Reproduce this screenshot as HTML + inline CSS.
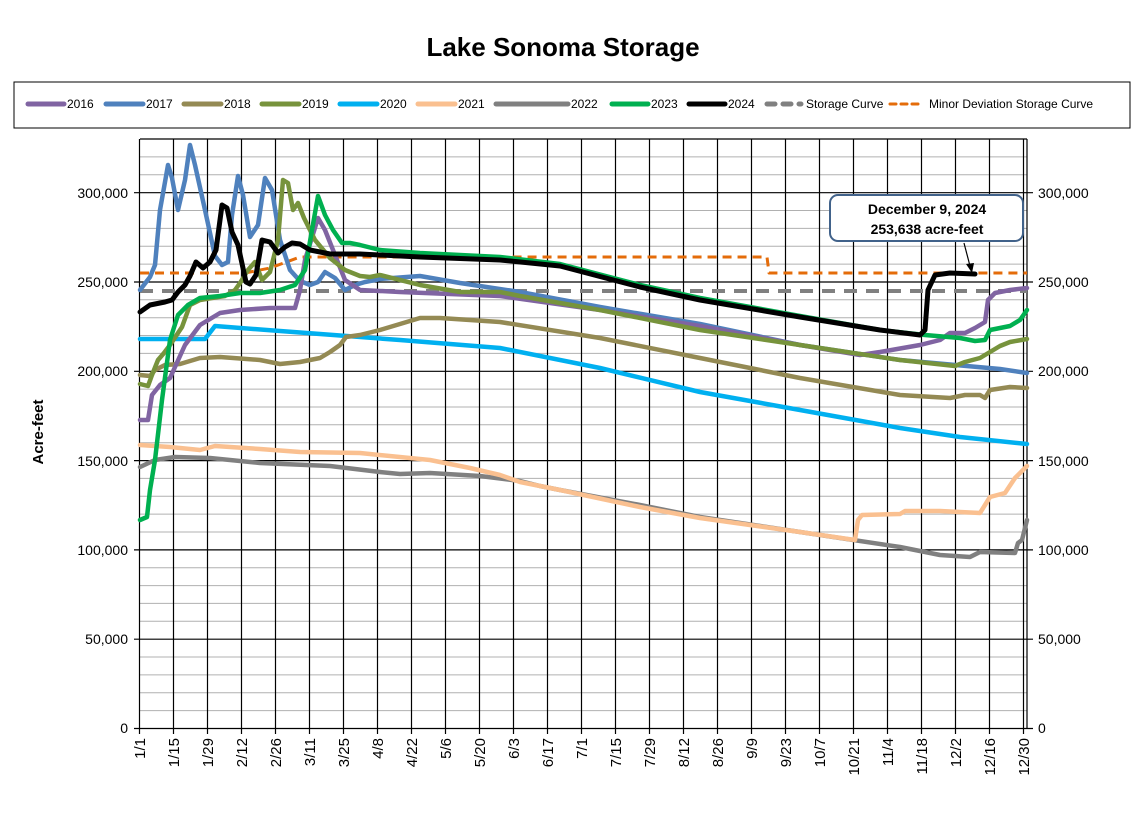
<!DOCTYPE html>
<html><head><meta charset="utf-8"><style>
html,body{margin:0;padding:0;background:#fff}
svg{display:block;font-family:"Liberation Sans",Arial,sans-serif}
</style></head><body>
<svg width="1139" height="827" viewBox="0 0 1139 827" xmlns="http://www.w3.org/2000/svg">
<rect width="1139" height="827" fill="#fff"/>
<text x="563" y="56" font-size="26" font-weight="bold" text-anchor="middle">Lake Sonoma Storage</text>
<rect x="14" y="82" width="1116" height="46" fill="#fff" stroke="#000" stroke-width="1"/>
<g font-size="12" fill="#000" stroke-linecap="round">
<line x1="28" y1="104" x2="64" y2="104" stroke="#8064a2" stroke-width="5"/><text x="67" y="108">2016</text>
<line x1="106" y1="104" x2="143" y2="104" stroke="#4f81bd" stroke-width="5"/><text x="146" y="108">2017</text>
<line x1="184" y1="104" x2="221" y2="104" stroke="#948a54" stroke-width="5"/><text x="224" y="108">2018</text>
<line x1="262" y1="104" x2="299" y2="104" stroke="#77933c" stroke-width="5"/><text x="302" y="108">2019</text>
<line x1="340" y1="104" x2="377" y2="104" stroke="#00b0f0" stroke-width="5"/><text x="380" y="108">2020</text>
<line x1="418" y1="104" x2="455" y2="104" stroke="#fac090" stroke-width="5"/><text x="458" y="108">2021</text>
<line x1="496" y1="104" x2="568" y2="104" stroke="#808080" stroke-width="5"/><text x="571" y="108">2022</text>
<line x1="612" y1="104" x2="648" y2="104" stroke="#00b050" stroke-width="5"/><text x="651" y="108">2023</text>
<line x1="689" y1="104" x2="725" y2="104" stroke="#000" stroke-width="5"/><text x="728" y="108">2024</text>
<line x1="767" y1="104" x2="801" y2="104" stroke="#808080" stroke-width="5" stroke-dasharray="8,8"/><text x="806" y="108">Storage Curve</text>
<line x1="890" y1="104" x2="922" y2="104" stroke="#e46c0a" stroke-width="3" stroke-dasharray="6,5"/><text x="929" y="108">Minor Deviation Storage Curve</text>
</g>
<g stroke="#b0b0b0" stroke-width="1">
<line x1="140" x2="1027" y1="710.6" y2="710.6"/><line x1="140" x2="1027" y1="692.7" y2="692.7"/><line x1="140" x2="1027" y1="674.9" y2="674.9"/><line x1="140" x2="1027" y1="657" y2="657"/>
<line x1="140" x2="1027" y1="621.3" y2="621.3"/><line x1="140" x2="1027" y1="603.4" y2="603.4"/><line x1="140" x2="1027" y1="585.6" y2="585.6"/><line x1="140" x2="1027" y1="567.7" y2="567.7"/>
<line x1="140" x2="1027" y1="532" y2="532"/><line x1="140" x2="1027" y1="514.1" y2="514.1"/><line x1="140" x2="1027" y1="496.3" y2="496.3"/><line x1="140" x2="1027" y1="478.4" y2="478.4"/>
<line x1="140" x2="1027" y1="442.7" y2="442.7"/><line x1="140" x2="1027" y1="424.8" y2="424.8"/><line x1="140" x2="1027" y1="407" y2="407"/><line x1="140" x2="1027" y1="389.1" y2="389.1"/>
<line x1="140" x2="1027" y1="353.4" y2="353.4"/><line x1="140" x2="1027" y1="335.5" y2="335.5"/><line x1="140" x2="1027" y1="317.7" y2="317.7"/><line x1="140" x2="1027" y1="299.8" y2="299.8"/>
<line x1="140" x2="1027" y1="264.1" y2="264.1"/><line x1="140" x2="1027" y1="246.2" y2="246.2"/><line x1="140" x2="1027" y1="228.4" y2="228.4"/><line x1="140" x2="1027" y1="210.5" y2="210.5"/>
<line x1="140" x2="1027" y1="174.8" y2="174.8"/><line x1="140" x2="1027" y1="156.9" y2="156.9"/>
</g>
<g stroke="#000" stroke-width="1.2">
<line x1="134" x2="1033" y1="639.2" y2="639.2"/><line x1="134" x2="1033" y1="549.9" y2="549.9"/><line x1="134" x2="1033" y1="460.6" y2="460.6"/><line x1="134" x2="1033" y1="371.3" y2="371.3"/><line x1="134" x2="1033" y1="282" y2="282"/><line x1="134" x2="1033" y1="192.7" y2="192.7"/>
<line x1="134" x2="1033" y1="728.5" y2="728.5"/>
<line x1="140" x2="1027" y1="139" y2="139"/>
<line x1="139.5" x2="139.5" y1="139" y2="734"/><line x1="173.5" x2="173.5" y1="139" y2="734"/><line x1="207.5" x2="207.5" y1="139" y2="734"/><line x1="241.5" x2="241.5" y1="139" y2="734"/><line x1="275.5" x2="275.5" y1="139" y2="734"/><line x1="309.5" x2="309.5" y1="139" y2="734"/><line x1="343.5" x2="343.5" y1="139" y2="734"/><line x1="377.5" x2="377.5" y1="139" y2="734"/><line x1="411.5" x2="411.5" y1="139" y2="734"/><line x1="445.5" x2="445.5" y1="139" y2="734"/><line x1="479.5" x2="479.5" y1="139" y2="734"/><line x1="513.5" x2="513.5" y1="139" y2="734"/><line x1="547.5" x2="547.5" y1="139" y2="734"/><line x1="581.5" x2="581.5" y1="139" y2="734"/><line x1="615.5" x2="615.5" y1="139" y2="734"/><line x1="649.5" x2="649.5" y1="139" y2="734"/><line x1="683.5" x2="683.5" y1="139" y2="734"/><line x1="717.5" x2="717.5" y1="139" y2="734"/><line x1="751.5" x2="751.5" y1="139" y2="734"/><line x1="785.5" x2="785.5" y1="139" y2="734"/><line x1="819.5" x2="819.5" y1="139" y2="734"/><line x1="853.5" x2="853.5" y1="139" y2="734"/><line x1="887.5" x2="887.5" y1="139" y2="734"/><line x1="921.5" x2="921.5" y1="139" y2="734"/><line x1="955.5" x2="955.5" y1="139" y2="734"/><line x1="989.5" x2="989.5" y1="139" y2="734"/><line x1="1023.5" x2="1023.5" y1="139" y2="734"/>
<line x1="1027" x2="1027" y1="139" y2="728.5"/>
</g>
<g font-size="14" fill="#000">
<g text-anchor="end">
<text x="128" y="733">0</text><text x="128" y="644">50,000</text><text x="128" y="555">100,000</text><text x="128" y="466">150,000</text><text x="128" y="376">200,000</text><text x="128" y="287">250,000</text><text x="128" y="198">300,000</text>
</g>
<text x="1038" y="733">0</text><text x="1038" y="644">50,000</text><text x="1038" y="555">100,000</text><text x="1038" y="466">150,000</text><text x="1038" y="376">200,000</text><text x="1038" y="287">250,000</text><text x="1038" y="198">300,000</text>
<text transform="translate(43,432) rotate(-90)" text-anchor="middle" font-size="15" font-weight="bold">Acre-feet</text>
<g text-anchor="end" font-size="15">
<text transform="translate(145,738) rotate(-90)">1/1</text><text transform="translate(179,738) rotate(-90)">1/15</text><text transform="translate(213,738) rotate(-90)">1/29</text><text transform="translate(247,738) rotate(-90)">2/12</text><text transform="translate(281,738) rotate(-90)">2/26</text><text transform="translate(315,738) rotate(-90)">3/11</text><text transform="translate(349,738) rotate(-90)">3/25</text><text transform="translate(383,738) rotate(-90)">4/8</text><text transform="translate(417,738) rotate(-90)">4/22</text><text transform="translate(451,738) rotate(-90)">5/6</text><text transform="translate(485,738) rotate(-90)">5/20</text><text transform="translate(519,738) rotate(-90)">6/3</text><text transform="translate(553,738) rotate(-90)">6/17</text><text transform="translate(587,738) rotate(-90)">7/1</text><text transform="translate(621,738) rotate(-90)">7/15</text><text transform="translate(655,738) rotate(-90)">7/29</text><text transform="translate(689,738) rotate(-90)">8/12</text><text transform="translate(723,738) rotate(-90)">8/26</text><text transform="translate(757,738) rotate(-90)">9/9</text><text transform="translate(791,738) rotate(-90)">9/23</text><text transform="translate(825,738) rotate(-90)">10/7</text><text transform="translate(859,738) rotate(-90)">10/21</text><text transform="translate(893,738) rotate(-90)">11/4</text><text transform="translate(927,738) rotate(-90)">11/18</text><text transform="translate(961,738) rotate(-90)">12/2</text><text transform="translate(995,738) rotate(-90)">12/16</text><text transform="translate(1029,738) rotate(-90)">12/30</text>
</g>
</g>
<g fill="none" stroke-width="4.5" stroke-linejoin="round" stroke-linecap="round">
<polyline stroke="#808080" stroke-width="4" stroke-linecap="butt" stroke-dasharray="13,9" points="140,291 1027,291"/>
<polyline stroke="#e46c0a" stroke-width="3" stroke-linecap="butt" stroke-dasharray="9,6" points="140,273 245,273 270,268 300,257 767,257 769,273 1027,273"/>
<polyline stroke="#808080" points="140,467 155,460 175,457 210,458 260,463 330,466 380,472 400,474 430,473 480,476 520,481 540,486 560,490 640,505 700,517 800,532 900,547 940,555 970,557 980,552 1015,553 1018,543 1022,540 1027,520"/>
<polyline stroke="#fac090" points="140,445 170,447 200,450 215,446 260,449 300,452 360,453 430,460 470,468 500,475 520,482 560,490 640,507 700,518 800,532 855,540 858,520 862,515 900,514 905,511 940,511 980,513 985,505 990,497 1005,493 1015,478 1027,466"/>
<polyline stroke="#00b0f0" points="140,339 205,339 215,326 280,331 400,340 500,348 600,368 700,392 800,410 900,428 960,437 1027,444"/>
<polyline stroke="#948a54" points="140,375 150,376 155,370 165,365 180,364 200,358 220,357 260,360 280,364 300,362 320,358 330,352 340,345 346,337 360,335 380,330 420,318 440,318 500,322 600,338 700,358 800,378 900,395 950,398 965,395 980,395 985,398 990,390 1010,387 1027,388"/>
<polyline stroke="#4f81bd" points="140,290 150,277 155,265 160,210 165,182 168,165 172,178 178,210 185,180 190,145 195,165 205,210 215,256 222,265 228,262 232,215 238,176 243,195 250,237 258,225 265,178 272,190 280,240 290,270 300,281 310,285 318,282 325,272 335,278 345,290 355,285 365,282 380,279 420,276 460,283 520,292 600,307 700,324 800,345 900,360 1000,369 1027,373"/>
<polyline stroke="#8064a2" points="140,420 148,420 152,395 160,385 170,378 185,345 200,325 220,313 240,310 270,308 295,308 300,290 305,260 318,218 325,230 335,255 345,280 360,290 400,292 500,296 600,310 700,326 800,345 860,355 880,352 920,345 940,340 950,333 965,333 975,328 985,322 988,300 995,293 1010,290 1027,288"/>
<polyline stroke="#77933c" points="140,384 148,386 152,375 158,360 164,353 170,345 182,327 190,305 200,300 212,298 225,296 235,290 240,283 248,270 255,262 262,280 270,272 278,240 283,180 288,183 293,210 298,203 304,218 315,240 330,258 345,270 360,276 370,277 380,275 420,285 460,292 500,292 520,296 600,310 700,330 800,345 900,360 955,366 965,362 980,358 1000,346 1010,342 1027,339"/>
<polyline stroke="#00b050" points="140,520 147,517 150,490 155,460 162,400 170,340 178,315 188,305 200,298 220,296 240,293 260,293 280,290 295,285 305,270 312,230 318,196 325,215 333,230 342,243 350,243 360,245 380,250 420,253 500,257 560,264 640,285 700,298 800,316 880,330 925,335 960,338 975,341 985,340 990,330 1000,328 1010,326 1020,320 1027,310"/>
<polyline stroke="#000" stroke-width="5" points="140,312 150,305 165,302 172,300 178,292 185,285 190,276 196,262 203,268 210,262 216,250 222,205 227,208 232,232 238,245 246,282 250,284 256,275 262,240 270,242 278,253 285,247 292,243 300,244 310,250 330,254 360,254 420,257 500,260 560,266 640,287 700,300 800,317 880,330 920,335 925,330 928,290 935,275 950,273 975,274"/>
</g>
<rect x="830" y="195" width="193" height="46" rx="8" fill="#fff" stroke="#41628a" stroke-width="2"/>
<text x="927" y="214" font-size="14" font-weight="bold" text-anchor="middle">December 9, 2024</text>
<text x="927" y="234" font-size="14" font-weight="bold" text-anchor="middle">253,638 acre-feet</text>
<line x1="964" y1="243" x2="970" y2="266" stroke="#000" stroke-width="1.2"/>
<polygon points="972,273 966,264 974,263" fill="#000"/>
</svg>
</body></html>
